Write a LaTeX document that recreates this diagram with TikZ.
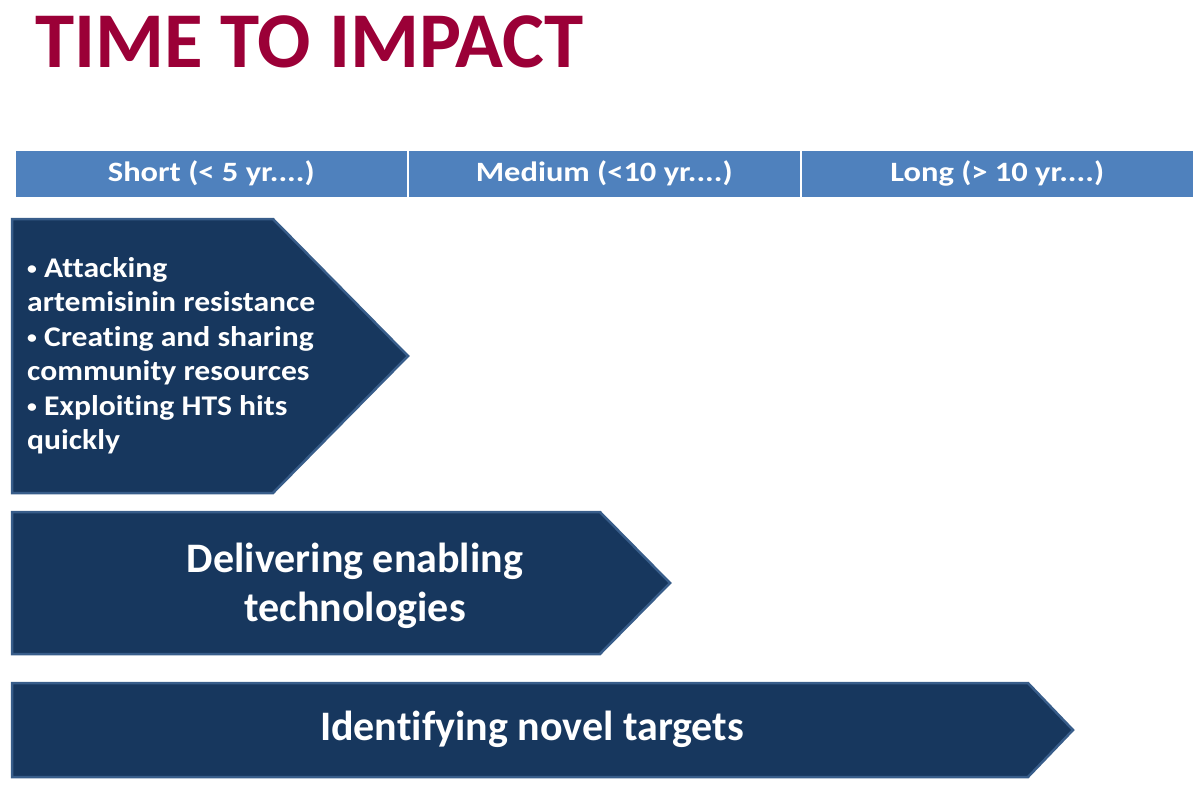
\documentclass[tikz,border=0pt]{standalone}
\usepackage{graphicx}
\usepackage{fontspec}
\setmainfont{Carlito}[Ligatures=NoCommon]
\newfontfamily\headfont{Carlito}[Ligatures=NoCommon, FakeStretch=1.16]
\newfontfamily\listfont{Carlito}[Ligatures=NoCommon, FakeStretch=1.11]
\newcommand{\dotmark}{\raisebox{0.1em}{\scalebox{0.62}{\textbullet}}}
\definecolor{titlered}{HTML}{9B0037}
\definecolor{headblue}{HTML}{4F81BD}
\definecolor{navy}{HTML}{17375E}
\definecolor{navyline}{HTML}{385D8A}
\tikzset{
  headcell/.style={fill=headblue, draw=white, line width=1.5pt, text=white,
    minimum height=48pt, inner sep=0pt, font=\headfont\fontsize{28}{32}\selectfont\bfseries},
  impact/.style={fill=navy, draw=navyline, line width=2.5pt, line join=miter},
  impacttext/.style={text=white, inner sep=0pt, font=\fontsize{42}{49}\selectfont\bfseries}
}
\begin{document}
\begin{tikzpicture}[x=1pt,y=-1pt]
  \useasboundingbox (0,0) rectangle (1200,785);
  % title
  \node[anchor=base west, inner sep=0pt, text=titlered,
    font=\fontsize{79}{82}\selectfont\bfseries] (title) at (35,67) {TIME TO IMPACT};
  % header bar
  \node[headcell, minimum width=393pt, anchor=north west] (short) at (14,149) {Short (< 5 yr....)};
  \node[headcell, minimum width=393pt, anchor=north west] (medium) at (407,149) {Medium (<10 yr....)};
  \node[headcell, minimum width=393pt, anchor=north west] (long) at (800,149) {Long (> 10 yr....)};
  % arrows
  \draw[impact] (12,219) -- (273,219) -- (408,356) -- (273,493) -- (12,493) -- cycle;
  \draw[impact] (12,512) -- (600,512) -- (670,583) -- (600,654) -- (12,654) -- cycle;
  \draw[impact] (12,683) -- (1028,683) -- (1073,730) -- (1028,777) -- (12,777) -- cycle;
  % texts
  \node[text=white, inner sep=0pt, anchor=north west, align=left,
    font=\listfont\fontsize{28.5}{34.5}\selectfont\bfseries] (shortlist) at (27,257)
    {\dotmark{} Attacking\\artemisinin resistance\\\dotmark{} Creating and sharing\\
     community resources\\\dotmark{} Exploiting HTS hits\\quickly};
  \node[impacttext, align=center] (enabling) at (355,586) {Delivering enabling\\technologies};
  \node[impacttext] (targets) at (532,729) {Identifying novel targets};
\end{tikzpicture}
\end{document}
